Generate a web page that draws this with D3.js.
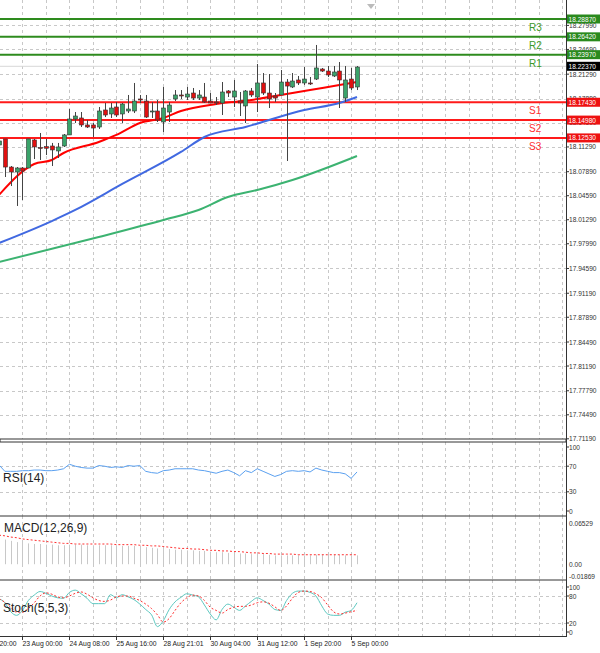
<!DOCTYPE html>
<html><head><meta charset="utf-8">
<script src="https://cdn.jsdelivr.net/npm/d3@7"></script>
<style>body{margin:0;background:#fff}svg{display:block;font-family:"Liberation Sans",Arial,sans-serif}</style>
</head><body><svg id="c" width="600" height="653"></svg>
<script>
// ---- data ----
const opens  = [18.1156,18.1239,18.0853,18.0785,18.0840,18.0840,18.1225,18.1122,18.1133,18.1142,18.1074,18.1142,18.1294,18.1513,18.1527,18.1431,18.1431,18.1403,18.1637,18.1582,18.1678,18.1582,18.1623,18.1623,18.1788,18.1760,18.1623,18.1623,18.1472,18.1609,18.1788,18.1843,18.1815,18.1870,18.1801,18.1815,18.1760,18.1747,18.1733,18.1898,18.1815,18.1760,18.1692,18.1898,18.1815,18.2008,18.1870,18.1829,18.1843,18.2021,18.1953,18.2049,18.2008,18.2008,18.2062,18.2200,18.2172,18.2104,18.2172,18.1801,18.2062,18.1953];
const highs  = [18.1239,18.1239,18.0867,18.0853,18.0853,18.1239,18.1239,18.1321,18.1239,18.1184,18.1184,18.1307,18.1650,18.1609,18.1609,18.1499,18.1458,18.1678,18.1733,18.1733,18.1747,18.1733,18.1843,18.2008,18.1843,18.1843,18.1747,18.1774,18.1953,18.1747,18.1911,18.1911,18.1953,18.1939,18.1911,18.2008,18.1870,18.1815,18.2021,18.1911,18.2049,18.1884,18.1911,18.1939,18.2269,18.2145,18.2131,18.1870,18.2186,18.2062,18.2145,18.2104,18.2227,18.2090,18.2530,18.2214,18.2241,18.2241,18.2296,18.2241,18.2214,18.2241];
const lows   = [18.1129,18.0716,18.0592,18.0318,18.0400,18.0840,18.0963,18.0950,18.1018,18.0867,18.0977,18.1129,18.1294,18.1458,18.1403,18.1389,18.1266,18.1376,18.1540,18.1527,18.1540,18.1458,18.1595,18.1595,18.1733,18.1527,18.1527,18.1472,18.1334,18.1472,18.1760,18.1788,18.1774,18.1774,18.1774,18.1733,18.1733,18.1705,18.1568,18.1815,18.1678,18.1554,18.1458,18.1815,18.1609,18.1843,18.1664,18.1747,18.1843,18.0936,18.1939,18.1980,18.1980,18.1980,18.2049,18.2159,18.2090,18.2090,18.1664,18.1747,18.1911,18.1911];
const closes = [18.1211,18.0853,18.0785,18.0840,18.0799,18.1239,18.1129,18.1115,18.1111,18.1088,18.1129,18.1294,18.1513,18.1554,18.1431,18.1403,18.1389,18.1623,18.1568,18.1664,18.1568,18.1719,18.1650,18.1760,18.1774,18.1540,18.1623,18.1499,18.1664,18.1705,18.1843,18.1836,18.1856,18.1801,18.1843,18.1747,18.1733,18.1733,18.1884,18.1870,18.1898,18.1733,18.1898,18.1843,18.2008,18.1870,18.1788,18.1801,18.2021,18.1966,18.2035,18.2008,18.2062,18.2001,18.2214,18.2172,18.2118,18.2159,18.2049,18.2049,18.1939,18.2227];

const maFastIdx = [0,6,9,11,17,20,24,28,31,37,43,48,53,58,61];
const maFastVal = [18.0469,18.0895,18.0950,18.1046,18.1197,18.1294,18.1458,18.1527,18.1623,18.1719,18.1774,18.1843,18.1911,18.1980,18.2021];
const maMidIdx = [0,9,13,21,31,35,42,52,58,61];
const maMidVal = [17.9809,18.0111,18.0263,18.0620,18.1060,18.1266,18.1403,18.1637,18.1733,18.1815];
const maSlowIdx = [0,17,28,34,39,44,50,61];
const maSlowVal = [17.9548,17.9891,18.0125,18.0263,18.0441,18.0537,18.0675,18.1005];

const levelNames = ["R3","R2","R1","S1","S2","S3"];
const levelValues = [18.2887,18.2642,18.2397,18.1743,18.1498,18.1253];
const lastPrice = 18.2237;
const priceTicks = [18.27990,18.24690,18.21290,18.17890,18.14590,18.11290,18.07890,18.04590,18.01290,17.97990,17.94590,17.91190,17.87890,17.84490,17.81190,17.77790,17.74490,17.71190];

const rsi = [72,62,62,62,63,63,64,64,63,63,64,66,73,70,68,67,67,71,70,68,69,68,71,70,71,62,60,59,63,64,66,66,66,66,64,63,61,59,62,64,60,55,63,60,66,62,58,54,57,62,63,62,63,61,67,64,62,60,60,58,51,61];
const macdHist = [0.041,0.039,0.037,0.035,0.034,0.033,0.032,0.032,0.031,0.031,0.030,0.030,0.031,0.031,0.031,0.030,0.030,0.030,0.030,0.030,0.030,0.029,0.029,0.029,0.029,0.027,0.026,0.025,0.024,0.024,0.023,0.023,0.022,0.022,0.021,0.021,0.020,0.019,0.019,0.018,0.018,0.017,0.017,0.016,0.016,0.016,0.015,0.014,0.014,0.014,0.014,0.014,0.014,0.014,0.015,0.015,0.015,0.015,0.015,0.014,0.014,0.014];
const macdSignal = [0.046,0.045,0.043,0.042,0.040,0.039,0.038,0.037,0.036,0.035,0.034,0.033,0.033,0.032,0.032,0.032,0.032,0.032,0.032,0.032,0.031,0.031,0.031,0.031,0.030,0.030,0.029,0.029,0.028,0.027,0.026,0.025,0.025,0.024,0.024,0.023,0.022,0.022,0.021,0.021,0.020,0.020,0.019,0.018,0.018,0.017,0.017,0.016,0.016,0.016,0.016,0.015,0.015,0.015,0.015,0.015,0.015,0.015,0.015,0.015,0.015,0.015];
const stochMain = [74,65,45,37,48,70,82,90,86,80,76,75,88,93,85,75,63,63,63,83,76,83,78,72,62,50,38,12,25,50,67,77,85,82,78,60,40,27,50,62,55,48,58,68,76,70,62,50,48,70,86,91,91,88,80,58,40,37,37,44,48,65];
const stochSignal = [74,66,55,44,44,52,65,80,87,84,78,76,80,86,89,84,76,70,68,71,78,80,80,75,70,62,52,38,22,30,48,65,76,82,80,70,55,48,42,50,55,57,57,60,65,67,64,56,48,58,75,88,91,90,85,76,60,45,40,42,45,48];
const timeLabels = ["22 Aug 20:00","23 Aug 00:00","24 Aug 08:00","25 Aug 16:00","28 Aug 21:01","30 Aug 04:00","31 Aug 12:00","1 Sep 20:00","5 Sep 00:00"];
const timeLabelIdx = [-4,4,12,20,28,36,44,52,60];

// ---- drawing ----
const svg = d3.select("#c");
const W = 566;
const x = d3.scaleLinear().domain([0,61]).range([-1,357]);
const y = d3.scaleLinear().domain([17.71190,18.28870]).range([438.8,19]);
const yR = d3.scaleLinear().domain([0,100]).range([511,447]);
const yM = d3.scaleLinear().domain([-0.01869,0.06529]).range([576,523]);
const yS = d3.scaleLinear().domain([0,100]).range([632,587]);
const grid = "#c8c8c8";

svg.append("clipPath").attr("id","cm").append("rect").attr("x",0).attr("y",0).attr("width",W).attr("height",439);
const vIdx = d3.range(4,98,4);
[[0,439],[442,516],[516,580],[580,636]].forEach(([a,b])=>{
  svg.append("g").selectAll("line").data(vIdx).join("line")
    .attr("x1",d=>Math.round(x(d))+0.5).attr("x2",d=>Math.round(x(d))+0.5).attr("y1",a).attr("y2",b)
    .attr("stroke",grid).attr("stroke-dasharray","3,3");
});
svg.append("g").selectAll("line").data(priceTicks).join("line")
  .attr("x1",0).attr("x2",W).attr("y1",d=>Math.round(y(d))+0.5).attr("y2",d=>Math.round(y(d))+0.5)
  .attr("stroke",grid).attr("stroke-dasharray","3,3");
[[yR,[70,30]],[yS,[80,20]]].forEach(([s,v])=>{
  svg.append("g").selectAll("line").data(v).join("line")
    .attr("x1",0).attr("x2",W).attr("y1",d=>Math.round(s(d))+0.5).attr("y2",d=>Math.round(s(d))+0.5)
    .attr("stroke",grid).attr("stroke-dasharray","3,3");
});

svg.append("line").attr("x1",0).attr("x2",W).attr("y1",y(lastPrice)).attr("y2",y(lastPrice)).attr("stroke","#d8d8d8");

levelNames.forEach((n,i)=>{
  const col = n[0]==="R" ? "#2e8b1e" : "#ff1a1a";
  svg.append("line").attr("x1",0).attr("x2",W).attr("y1",y(levelValues[i])).attr("y2",y(levelValues[i])).attr("stroke",col).attr("stroke-width",2);
  svg.append("text").attr("x",529).attr("y",y(levelValues[i])+12).text(n)
    .attr("font-size",10).attr("fill",n[0]==="R"?"#3c9a2a":"#ff3030");
});

const line = d3.line().x(d=>x(d[0])).y(d=>y(d[1])).curve(d3.curveMonotoneX);
const gMain = svg.append("g").attr("clip-path","url(#cm)");
[[maSlowIdx,maSlowVal,"#3cb371"],[maMidIdx,maMidVal,"#4169e1"],[maFastIdx,maFastVal,"#ff0000"]].forEach(([ix,vv,c])=>{
  gMain.append("path").attr("d",line(ix.map((d,i)=>[d,vv[i]]))).attr("fill","none").attr("stroke",c).attr("stroke-width",2);
});

const cg = gMain.append("g");
opens.forEach((o,i)=>{
  const c = closes[i], up = c>=o, cx = Math.round(x(i))+0.5;
  cg.append("line").attr("x1",cx).attr("x2",cx).attr("y1",y(highs[i])).attr("y2",y(lows[i])).attr("stroke","#444");
  const t = y(Math.max(o,c)), b = y(Math.min(o,c));
  cg.append("rect").attr("x",cx-2).attr("y",t).attr("width",4).attr("height",Math.max(1,b-t))
    .attr("fill",up?"#3aa36a":"#e01010").attr("stroke","#333").attr("stroke-width",0.6);
});

svg.append("path").attr("d",d3.line().x((d,i)=>x(i)).y(d=>yR(d))(rsi)).attr("fill","none").attr("stroke","#5aa0f0").attr("stroke-width",1);
svg.append("g").selectAll("line").data(macdHist).join("line")
  .attr("x1",(d,i)=>Math.round(x(i))+0.5).attr("x2",(d,i)=>Math.round(x(i))+0.5).attr("y1",yM(0)).attr("y2",d=>yM(d))
  .attr("stroke","#c8c8c8").attr("stroke-width",1);
svg.append("path").attr("d",d3.line().x((d,i)=>x(i)).y(d=>yM(d))(macdSignal)).attr("fill","none").attr("stroke","#ff3030").attr("stroke-dasharray","2,2");
svg.append("path").attr("d",d3.line().x((d,i)=>x(i)).y(d=>yS(d)).curve(d3.curveMonotoneX)(stochMain)).attr("fill","none").attr("stroke","#5cc8c0").attr("stroke-width",1);
svg.append("path").attr("d",d3.line().x((d,i)=>x(i)).y(d=>yS(d)).curve(d3.curveMonotoneX)(stochSignal)).attr("fill","none").attr("stroke","#ff3030").attr("stroke-dasharray","2,2");

svg.append("text").attr("x",3).attr("y",482).text("RSI(14)").attr("font-size",12).attr("fill","#222");
svg.append("text").attr("x",4).attr("y",532).text("MACD(12,26,9)").attr("font-size",12).attr("fill","#222");
svg.append("text").attr("x",3).attr("y",612).text("Stoch(5,5,3)").attr("font-size",12).attr("fill","#222");

svg.append("rect").attr("x",0).attr("y",439).attr("width",W).attr("height",3).attr("fill","#fff").attr("stroke","#333");
[516,580].forEach(v=>svg.append("line").attr("x1",0).attr("x2",W).attr("y1",v).attr("y2",v).attr("stroke","#333"));
svg.append("line").attr("x1",W+0.5).attr("x2",W+0.5).attr("y1",0).attr("y2",637).attr("stroke","#333");
svg.append("line").attr("x1",0).attr("x2",W).attr("y1",636.5).attr("y2",636.5).attr("stroke","#333");

const ax = svg.append("g").attr("font-size",6.6).attr("fill","#333");
priceTicks.forEach(v=>{
  ax.append("line").attr("x1",W).attr("x2",W+3).attr("y1",y(v)).attr("y2",y(v)).attr("stroke","#333");
  ax.append("text").attr("x",569).attr("y",y(v)+2.5).text(v.toFixed(5));
});
[[yR,[100,70,30,0]],[yS,[100,80,20,0]]].forEach(([s,v])=>v.forEach(t=>{
  ax.append("text").attr("x",569).attr("y",s(t)+2.5).text(t);
  ax.append("line").attr("x1",W).attr("x2",W+3).attr("y1",s(t)).attr("y2",s(t)).attr("stroke","#333");
}));
[[0.06529,"0.06529"],[0,"0.00"],[-0.01869,"-0.01869"]].forEach(([v,t])=>{
  ax.append("text").attr("x",569).attr("y",yM(v)+2.5).text(t);
});

const boxes = levelValues.map((v,i)=>[v,levelNames[i][0]==="R"?"#2a8a1e":"#ee1111"]).concat([[lastPrice,"#000"]]);
boxes.forEach(([v,c])=>{
  svg.append("rect").attr("x",567).attr("y",y(v)-4.5).attr("width",33).attr("height",9).attr("fill",c);
  svg.append("text").attr("x",568.5).attr("y",y(v)+2.5).text(v.toFixed(5)).attr("font-size",6.6).attr("fill","#fff");
});

svg.append("path").attr("d","M367,4 L375,4 L371,9 Z").attr("fill","#bbb");

const tx = svg.append("g").attr("font-size",6.8).attr("fill","#222");
timeLabelIdx.forEach((d,i)=>{
  const px = Math.round(x(d))+0.5;
  tx.append("line").attr("x1",px).attr("x2",px).attr("y1",637).attr("y2",640).attr("stroke","#333");
  tx.append("text").attr("x",px).attr("y",646).text(timeLabels[i]);
});
</script></body></html>
